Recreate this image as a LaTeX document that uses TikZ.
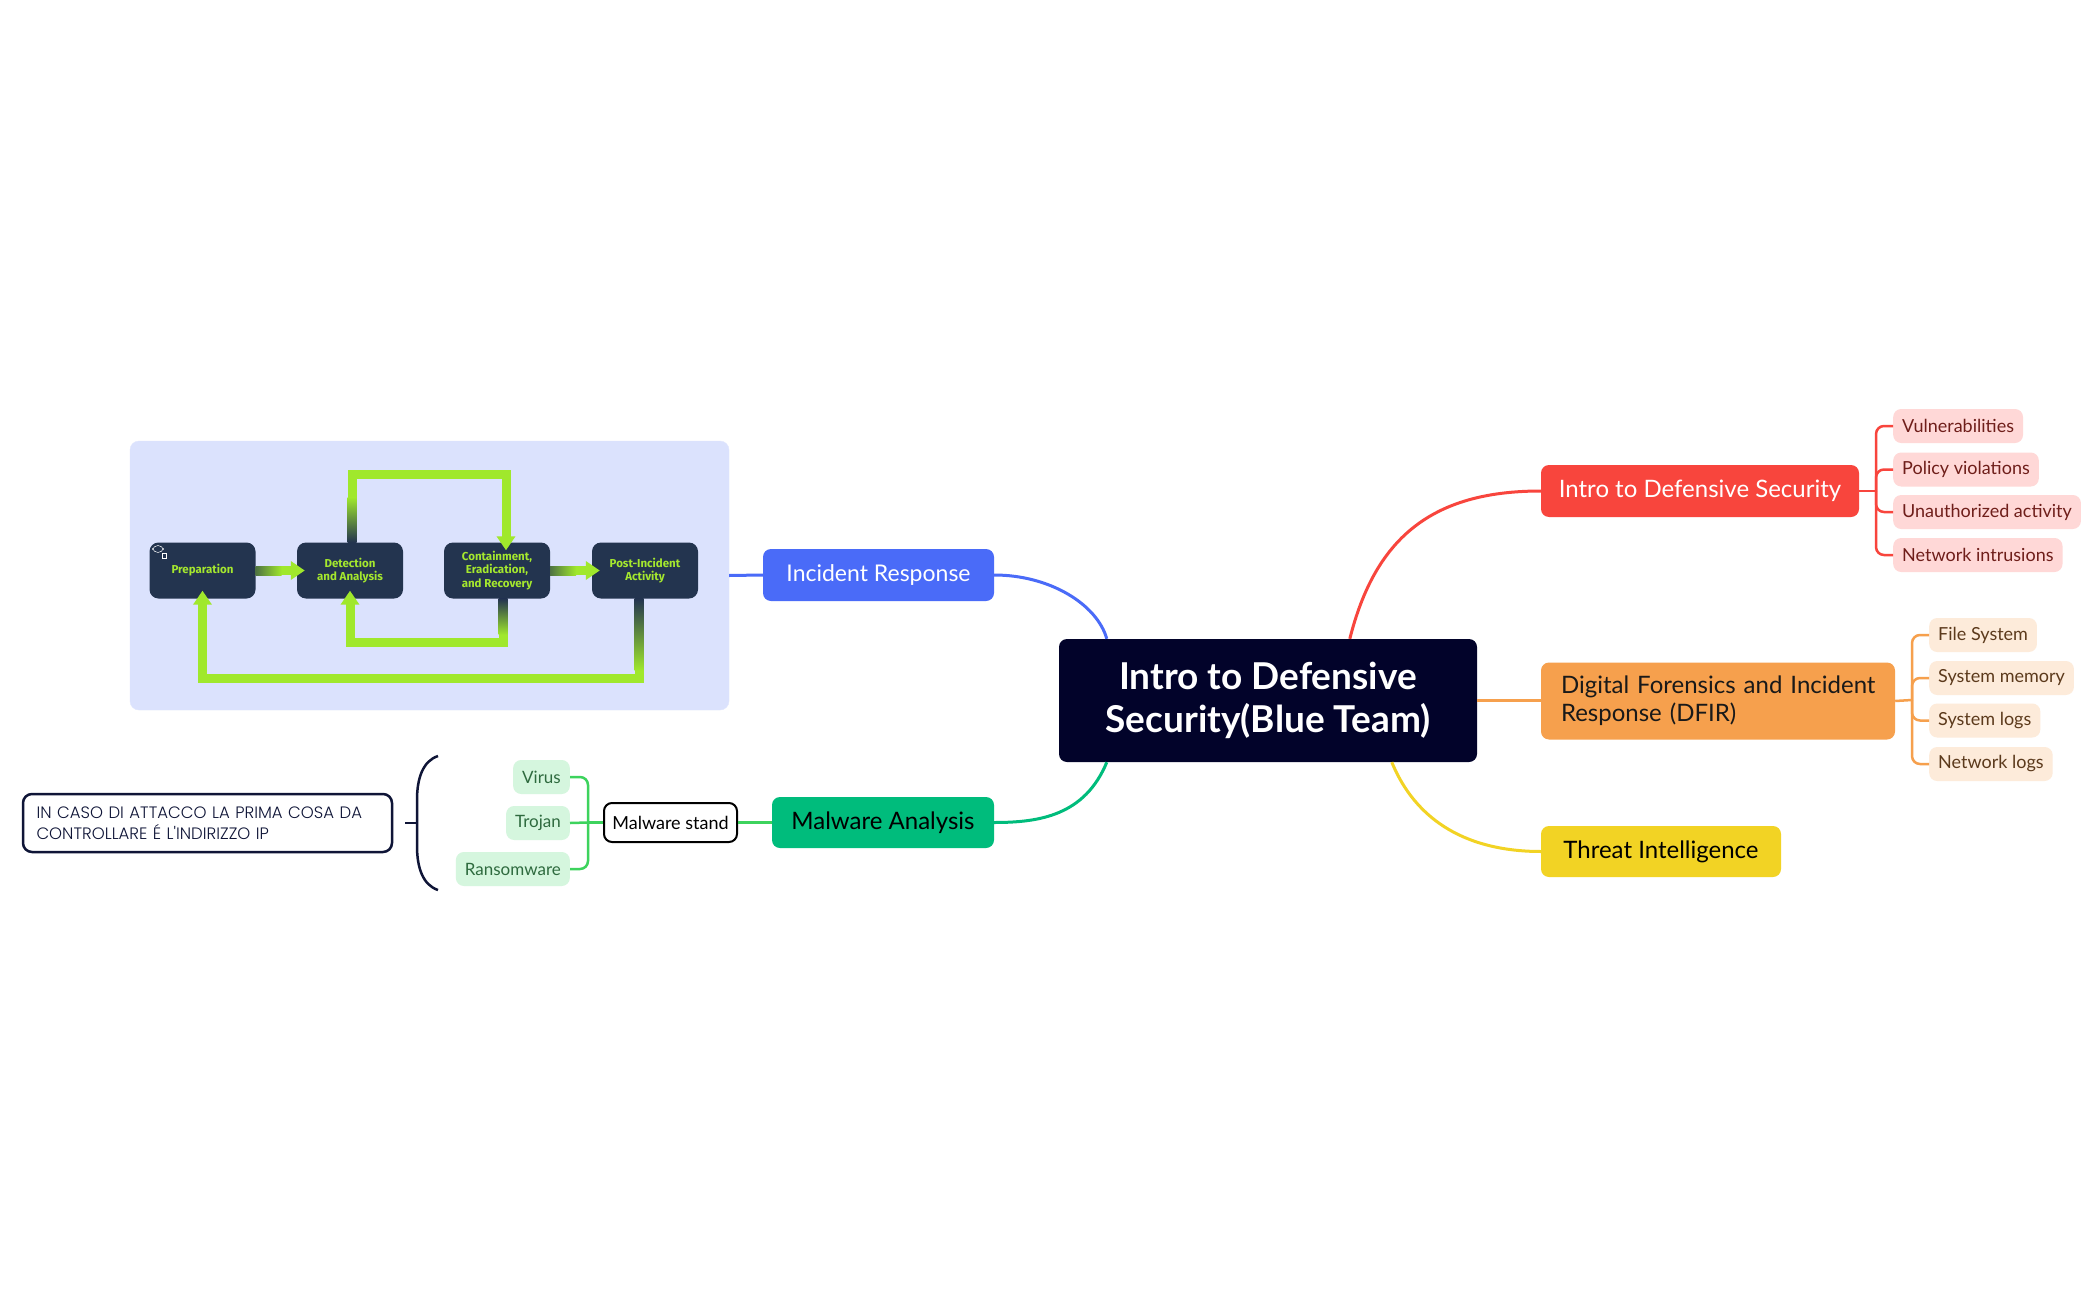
\documentclass[tikz,border=0pt]{standalone}
\usepackage{fontspec}
\setmainfont{Lato}
\newfontfamily\popfont{Poppins Light}
\newfontfamily\firafont{Fira Sans}
\usetikzlibrary{arrows.meta,shapes.symbols,calc}
\definecolor{irbg}{HTML}{DBE2FD}
\definecolor{flownavy}{HTML}{23344F}
\definecolor{flowgreen}{HTML}{A0E82C}
\definecolor{flowtext}{HTML}{A5E82E}
\definecolor{bluec}{HTML}{4A6BF8}
\definecolor{cnavy}{HTML}{02032A}
\definecolor{redc}{HTML}{F8453D}
\definecolor{pinkbg}{HTML}{FFD8D7}
\definecolor{pinktext}{HTML}{6F1E1A}
\definecolor{orangec}{HTML}{F6A04D}
\definecolor{orangebg}{HTML}{FDEBDA}
\definecolor{orangetext}{HTML}{5C3A1C}
\definecolor{yellowc}{HTML}{F2D324}
\definecolor{mgreen}{HTML}{00BC7C}
\definecolor{lgreen}{HTML}{3DD35D}
\definecolor{gbg}{HTML}{D5F6DE}
\definecolor{gtext}{HTML}{2E6A3E}
\definecolor{navyline}{HTML}{0F1537}
\begin{document}
\begin{tikzpicture}[x=1pt,y=-1pt,
  mainbox/.style={rounded corners=8pt, inner sep=0pt, align=center},
  flowbox/.style={fill=flownavy, rounded corners=9pt, minimum width=106pt, minimum height=56pt,
    inner sep=0pt, align=center, text=flowtext, font=\firafont\bfseries\fontsize{11.5}{13.5}\selectfont},
  flowarrow/.style={draw=flowgreen, line width=9pt, line join=miter,
    -{Triangle[width=18pt,length=14pt]}, shorten >=-8pt},
  subitem/.style={rounded corners=8pt, inner xsep=9pt, inner ysep=0pt, minimum height=34pt,
    font=\fontsize{18}{20}\selectfont},
  gsubitem/.style={rounded corners=8pt, inner xsep=9pt, inner ysep=0pt, minimum height=34pt,
    font=\fontsize{17}{20}\selectfont, fill=gbg, text=gtext, anchor=east},
  mainline/.style={line width=3pt},
  subline/.style={line width=2.5pt, rounded corners=8pt}
]
\fill[white] (0,0) rectangle (2096,1300);
\useasboundingbox (0,0) rectangle (2096,1300);

% ---------- Incident response flow picture ----------
\node[fill=irbg, draw=irbg!85!white, rounded corners=9pt, minimum width=599pt, minimum height=269pt, inner sep=0pt] (irbox) at (429.5,575.5) {};

\node[flowbox] (prep) at (202.5,570.5) {Preparation};
\node[flowbox] (det) at (350,570.5) {Detection\\and Analysis};
\node[flowbox] (cont) at (497,570.5) {Containment,\\Eradication,\\and Recovery};
\node[flowbox] (post) at (645,570.5) {Post-Incident\\Activity};

\node[cloud, cloud puffs=4, draw=white, line width=0.5pt, minimum width=10pt, minimum height=7pt, inner sep=0pt] (cloudicon) at (158,549) {};
\node[draw=white, line width=0.4pt, minimum width=4pt, minimum height=5pt, inner sep=0pt] (docicon) at (164,556) {};

\draw[flowarrow] (prep.east) -- (det.west);
\draw[flowarrow] (cont.east) -- (post.west);
\draw[flowarrow] ([xshift=2pt]det.north) -- ++(0,-68) -| ([xshift=9pt]cont.north);
\draw[flowarrow] ([xshift=6pt]cont.south) -- ++(0,44) -| (det.south);
\draw[flowarrow] ([xshift=-6pt]post.south) -- ++(0,80) -| (prep.south);

% gradient parts near the boxes
\shade[left color=flowgreen!35!flownavy, right color=flowgreen] ($(prep.east)+(0,-4.5)$) rectangle ($(prep.east)+(26,4.5)$);
\shade[left color=flowgreen!35!flownavy, right color=flowgreen] ($(cont.east)+(0,-4.5)$) rectangle ($(cont.east)+(26,4.5)$);
\shade[top color=flowgreen, bottom color=flownavy] ($(det.north)+(-2.5,-45)$) rectangle ($(det.north)+(6.5,0)$);
\shade[top color=flownavy, bottom color=flowgreen] ($(cont.south)+(1.5,0)$) rectangle ($(cont.south)+(10.5,36)$);
\shade[top color=flownavy, bottom color=flowgreen] ($(post.south)+(-10.5,0)$) rectangle ($(post.south)+(-1.5,72)$);

% ---------- central node and branches ----------
\node[mainbox, fill=cnavy, minimum width=418pt, minimum height=123pt, text=white,
  font=\bfseries\fontsize{37}{43}\selectfont] (center) at (1268,700.5) {Intro to Defensive\\Security(Blue Team)};

\node[mainbox, fill=bluec, minimum width=231pt, minimum height=52pt, text=white,
  font=\fontsize{23}{26}\selectfont] (ir) at (878.5,575) {Incident Response};
\node[mainbox, fill=mgreen, minimum width=222pt, minimum height=51pt, text=black,
  font=\fontsize{24}{26}\selectfont] (ma) at (883,822.5) {Malware Analysis};
\node[mainbox, fill=redc, minimum width=318pt, minimum height=52pt, text=white,
  font=\fontsize{24}{26}\selectfont] (ids) at (1700,491) {Intro to Defensive Security};
\node[mainbox, fill=orangec, minimum width=354pt, minimum height=77pt, text=black!90,
  font=\fontsize{24}{28}\selectfont, align=left, text width=334pt] (dfir) at (1718,701) {\hspace*{10pt}Digital Forensics and Incident\\\hspace*{10pt}Response (DFIR)};
\node[mainbox, fill=yellowc, minimum width=240pt, minimum height=51pt, text=black,
  font=\fontsize{24}{26}\selectfont] (threat) at (1661,851.5) {Threat Intelligence};

% main connectors
\draw[mainline, bluec] (irbox.east) -- (ir.west);
\draw[mainline, bluec] (ir.east) .. controls +(55,0) and +(-10,-35) .. ($(center.north west)+(48,0)$);
\draw[mainline, redc] ($(center.north west)+(291,0)$) .. controls +(25,-99) and +(-111,0) .. (ids.west);
\draw[mainline, orangec] (center.east) -- (center.east -| dfir.west);
\draw[mainline, yellowc] ($(center.south west)+(333,0)$) .. controls +(28,68) and +(-61,0) .. (threat.west);
\draw[mainline, mgreen] ($(center.south west)+(48,0)$) .. controls +(-22,53) and +(46,0) .. (ma.east);

% red sub items
\node[subitem, fill=pinkbg, text=pinktext, anchor=west] (vul) at (1893,426) {Vulnerabilities};
\node[subitem, fill=pinkbg, text=pinktext, anchor=west] (pol) at (1893,469.5) {Policy violations};
\node[subitem, fill=pinkbg, text=pinktext, anchor=west] (una) at (1893,512) {Unauthorized activity};
\node[subitem, fill=pinkbg, text=pinktext, anchor=west] (net) at (1893,555) {Network intrusions};
\coordinate (rb) at (1876,491);
\draw[subline, redc] (ids.east) -- (rb);
\foreach \c in {vul,pol,una,net} \draw[subline, redc] (rb) |- (\c.west);

% orange sub items
\node[subitem, fill=orangebg, text=orangetext, anchor=west] (fs) at (1929,635) {File System};
\node[subitem, fill=orangebg, text=orangetext, anchor=west] (sm) at (1929,678) {System memory};
\node[subitem, fill=orangebg, text=orangetext, anchor=west] (sl) at (1929,720.5) {System logs};
\node[subitem, fill=orangebg, text=orangetext, anchor=west] (nl) at (1929,764) {Network logs};
\coordinate (ob) at (1912,700);
\draw[subline, orangec] (dfir.east) -- (ob);
\foreach \c in {fs,sm,sl,nl} \draw[subline, orangec] (ob) |- (\c.west);

% malware sub items
\node[mainbox, draw=black, line width=2pt, fill=white, minimum width=133pt, minimum height=39pt,
  font=\fontsize{18}{20}\selectfont] (mstand) at (670.5,822.5) {Malware stand};
\node[gsubitem] (virus) at (570,777) {Virus};
\node[gsubitem] (trojan) at (570,823) {Trojan};
\node[gsubitem] (ransom) at (570,869) {Ransomware};
\draw[subline, lgreen] (mstand.east) -- (ma.west);
\coordinate (gb) at (588,822.5);
\draw[subline, lgreen] (mstand.west) -- (gb);
\draw[subline, lgreen] (gb) |- (virus.east);
\draw[subline, lgreen] (gb) -- (trojan.east);
\draw[subline, lgreen] (gb) |- (ransom.east);

% brace and note
\draw[navyline, line width=2.5pt] (438,756) .. controls (423,761) and (417,778) .. (417,800) -- (417,846) .. controls (417,868) and (423,885) .. (438,890);
\draw[navyline, line width=2.5pt] (405,823) -- (417,823);
\node[draw=navyline, line width=2.5pt, fill=white, rounded corners=9pt, minimum width=369pt, minimum height=58pt,
  inner sep=0pt, align=left, text width=342pt, text=navyline,
  font=\popfont\fontsize{16.5}{21}\selectfont] (note) at (207.5,823) {IN CASO DI ATTACCO LA PRIMA COSA DA\\CONTROLLARE É L'INDIRIZZO IP};
\end{tikzpicture}
\end{document}
